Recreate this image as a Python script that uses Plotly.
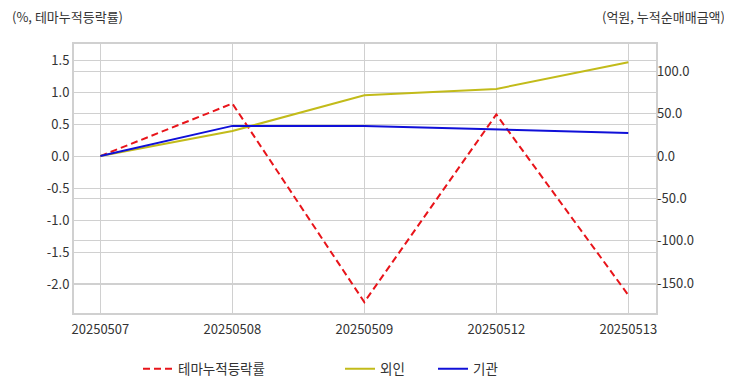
import plotly.graph_objects as go

dates = ["20250507", "20250508", "20250509", "20250512", "20250513"]
theme_rate = [0.0, 0.82, -2.28, 0.65, -2.17]
foreign_amt = [0.0, 29.5, 71.5, 79.0, 110.5]
inst_amt = [0.0, 35.5, 35.5, 31.0, 27.0]

left_ticks = [-2.0, -1.5, -1.0, -0.5, 0.0, 0.5, 1.0, 1.5]
right_ticks = [-150, -100, -50, 0, 50, 100]

FONT = "Noto Sans CJK KR"
TXT = "#333333"
GRID = "#d0d0d0"

fig = go.Figure()
fig.add_trace(go.Scatter(x=dates, y=theme_rate, name="테마누적등락률", mode="lines",
                         line=dict(color="#e8141a", width=2, dash="7px,4px"), yaxis="y", legend="legend"))
fig.add_trace(go.Scatter(x=dates, y=foreign_amt, name="외인", mode="lines",
                         line=dict(color="#c2bb1a", width=2), yaxis="y2", legend="legend2"))
fig.add_trace(go.Scatter(x=dates, y=inst_amt, name="기관", mode="lines",
                         line=dict(color="#1010d8", width=2), yaxis="y2", legend="legend3"))

leg = dict(orientation="h", yanchor="middle", y=-0.208, xanchor="left",
           font=dict(family=FONT, size=13.5, color=TXT), bgcolor="rgba(0,0,0,0)")

# page body adds an 8px margin, so the figure is 8px smaller and shifted
fig.update_layout(
    width=724, height=384,
    margin=dict(l=66, r=76, t=36, b=79, autoexpand=False),
    paper_bgcolor="white", plot_bgcolor="white",
    font=dict(family=FONT, size=13, color=TXT),
    xaxis=dict(type="category", range=[-0.2, 4.21], showgrid=True, gridcolor=GRID, gridwidth=1,
               tickfont=dict(family=FONT, size=13, color=TXT), showline=True, linecolor=GRID,
               linewidth=2, mirror=True, ticks="", zeroline=False, automargin=False,
               ticklabelstandoff=3),
    yaxis=dict(range=[-2.45, 1.75], tickvals=left_ticks, ticktext=[f"{v:.1f}" for v in left_ticks],
               showgrid=True, gridcolor=GRID, zeroline=False, showline=True, linecolor=GRID,
               linewidth=2, mirror=True, tickfont=dict(family=FONT, size=13, color=TXT), automargin=False),
    yaxis2=dict(range=[-185, 132], tickvals=right_ticks, ticktext=[f"{v:.1f}" for v in right_ticks],
                overlaying="y", side="right", showgrid=True, gridcolor=GRID, zeroline=False,
                showline=False, tickfont=dict(family=FONT, size=13, color=TXT), automargin=False),
    showlegend=True,
    legend=dict(leg, x=(138 - 74) / 582),
    legend2=dict(leg, x=(340 - 74) / 582),
    legend3=dict(leg, x=(433 - 74) / 582),
    annotations=[
        dict(text="(%, 테마누적등락률)", xref="paper", yref="paper", x=-(74 - 10) / 582, y=1 + (44 - 16) / 269,
             xanchor="left", yanchor="middle", showarrow=False, font=dict(family=FONT, size=13, color=TXT)),
        dict(text="(억원, 누적순매매금액)", xref="paper", yref="paper", x=1 + (727 - 656) / 582, y=1 + (44 - 16) / 269,
             xanchor="right", yanchor="middle", showarrow=False, font=dict(family=FONT, size=13, color=TXT)),
    ],
)

fig.write_html("out.html")
